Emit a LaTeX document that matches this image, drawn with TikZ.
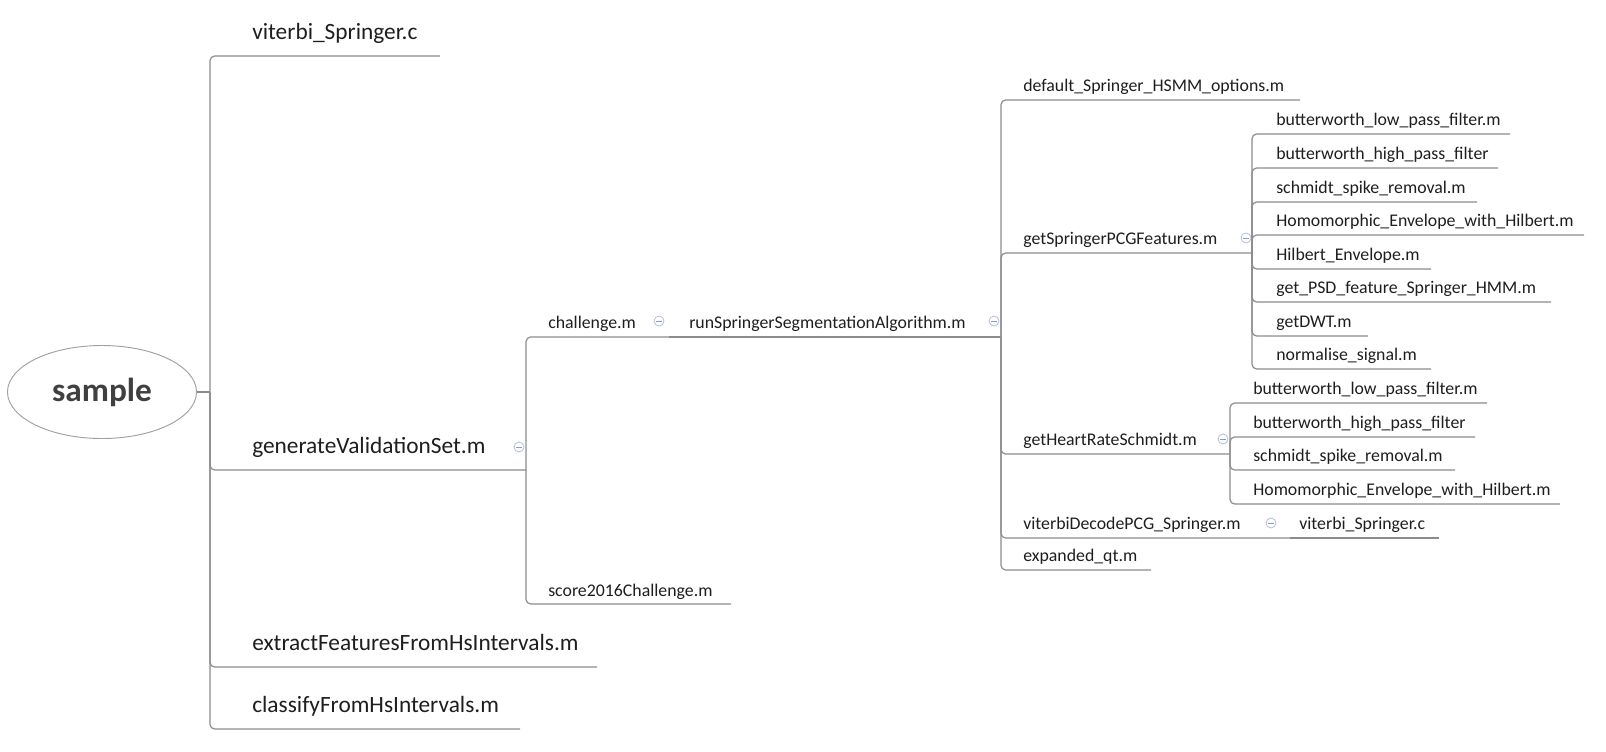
\documentclass[tikz,border=0pt]{standalone}
\usepackage{fontspec}
\setmainfont{Carlito}
\usetikzlibrary{shapes.geometric}
\definecolor{linec}{HTML}{8C8C8C}
\definecolor{txtc}{HTML}{1E1E1E}
\definecolor{rootc}{HTML}{404040}
\definecolor{ellc}{HTML}{A0A0A0}
\definecolor{iconc}{HTML}{B4BEE0}
\definecolor{iconm}{HTML}{8A98D0}
\begin{document}
\begin{tikzpicture}[x=0.75pt,y=-0.75pt,
  conn/.style={draw=linec,line width=0.9pt,rounded corners=3.5pt},
  lone/.style={anchor=base west,inner sep=0pt,text=txtc,font=\fontsize{17.5}{20}\selectfont},
  lsub/.style={anchor=base west,inner sep=0pt,text=txtc,font=\fontsize{13.35}{16}\selectfont},
  rootnode/.style={ellipse,draw=ellc,line width=0.7pt,minimum width=141.75pt,minimum height=69.75pt,inner sep=0pt,text=rootc,font=\fontsize{25}{28}\selectfont\bfseries},
  icon/.style={circle,draw=iconc,fill=white,line width=0.6pt,minimum size=7.5pt,inner sep=0pt,
    path picture={\draw[iconm,line width=0.6pt] ([xshift=-2pt]path picture bounding box.center) -- ([xshift=2pt]path picture bounding box.center);}}]
\useasboundingbox (0,0) rectangle (1606,751);

% root
\node[rootnode] (root) at (102,392) {sample};
\coordinate (trunk) at (210,392);

% level 1
\node[lone] (vs1) at (252,39) {viterbi\_Springer.c};
\coordinate (vs1-e) at (440,56);
\node[lone] (gvs) at (252,453) {generateValidationSet.m};
\coordinate (gvs-e) at (526,470);
\node[lone] (ext) at (252,650) {extractFeaturesFromHsIntervals.m};
\coordinate (ext-e) at (597,667);
\node[lone] (cls) at (252,712) {classifyFromHsIntervals.m};
\coordinate (cls-e) at (520,729);

% level 2
\node[lsub] (chal) at (548,328) {challenge.m};
\coordinate (chal-e) at (669,337);
\node[lsub] (sc) at (548,596) {score2016Challenge.m};
\coordinate (sc-e) at (731,604);

% level 3
\node[lsub] (run) at (689,328) {runSpringerSegmentationAlgorithm.m};
\coordinate (run-e) at (1001,337);

% level 4
\node[lsub] (dso) at (1023,91) {default\_Springer\_HSMM\_options.m};
\coordinate (dso-e) at (1300,100);
\node[lsub] (pcg) at (1023,244) {getSpringerPCGFeatures.m};
\coordinate (pcg-e) at (1252,253);
\node[lsub] (hrs) at (1023,445) {getHeartRateSchmidt.m};
\coordinate (hrs-e) at (1230,454);
\node[lsub] (vd) at (1023,529) {viterbiDecodePCG\_Springer.m};
\coordinate (vd-e) at (1290,538);
\node[lsub] (vs2) at (1299,529) {viterbi\_Springer.c};
\coordinate (vs2-e) at (1439,538);
\node[lsub] (eqt) at (1023,561) {expanded\_qt.m};
\coordinate (eqt-e) at (1151,570);

% level 5 under getSpringerPCGFeatures
\node[lsub] (blp1) at (1276,125) {butterworth\_low\_pass\_filter.m};
\coordinate (blp1-e) at (1510,134);
\node[lsub] (bhp1) at (1276,159) {butterworth\_high\_pass\_filter};
\coordinate (bhp1-e) at (1498,168);
\node[lsub] (ssr1) at (1276,193) {schmidt\_spike\_removal.m};
\coordinate (ssr1-e) at (1477,202);
\node[lsub] (hom1) at (1276,226) {Homomorphic\_Envelope\_with\_Hilbert.m};
\coordinate (hom1-e) at (1584,235);
\node[lsub] (hil1) at (1276,260) {Hilbert\_Envelope.m};
\coordinate (hil1-e) at (1431,269);
\node[lsub] (psd1) at (1276,293) {get\_PSD\_feature\_Springer\_HMM.m};
\coordinate (psd1-e) at (1551,302);
\node[lsub] (dwt1) at (1276,327) {getDWT.m};
\coordinate (dwt1-e) at (1368,336);
\node[lsub] (nrm1) at (1276,360) {normalise\_signal.m};
\coordinate (nrm1-e) at (1431,369);

% level 5 under getHeartRateSchmidt
\node[lsub] (blp2) at (1253,394) {butterworth\_low\_pass\_filter.m};
\coordinate (blp2-e) at (1487,403);
\node[lsub] (bhp2) at (1253,428) {butterworth\_high\_pass\_filter};
\coordinate (bhp2-e) at (1475,437);
\node[lsub] (ssr2) at (1253,461) {schmidt\_spike\_removal.m};
\coordinate (ssr2-e) at (1455,470);
\node[lsub] (hom2) at (1253,495) {Homomorphic\_Envelope\_with\_Hilbert.m};
\coordinate (hom2-e) at (1560,504);

% connectors
\draw[conn] (root.east) -- (trunk);
\foreach \c in {vs1-e,gvs-e,ext-e,cls-e} \draw[conn] (trunk) |- (\c);
\foreach \c in {chal-e,sc-e} \draw[conn] (gvs-e) |- (\c);
\draw[conn] (chal-e) -- (run-e);
\foreach \c in {dso-e,pcg-e,hrs-e,vd-e,eqt-e} \draw[conn] (run-e) |- (\c);
\draw[conn] (vd-e) -- (vs2-e);
\foreach \c in {blp1-e,bhp1-e,ssr1-e,hom1-e,hil1-e,psd1-e,dwt1-e,nrm1-e} \draw[conn] (pcg-e) |- (\c);
\foreach \c in {blp2-e,bhp2-e,ssr2-e,hom2-e} \draw[conn] (hrs-e) |- (\c);

% collapse icons
\node[icon] (gvs-i) at (519,447) {};
\node[icon] (chal-i) at (659,321) {};
\node[icon] (run-i) at (994,321) {};
\node[icon] (pcg-i) at (1246,238) {};
\node[icon] (hrs-i) at (1223,439) {};
\node[icon] (vd-i) at (1271,523) {};
\end{tikzpicture}
\end{document}
